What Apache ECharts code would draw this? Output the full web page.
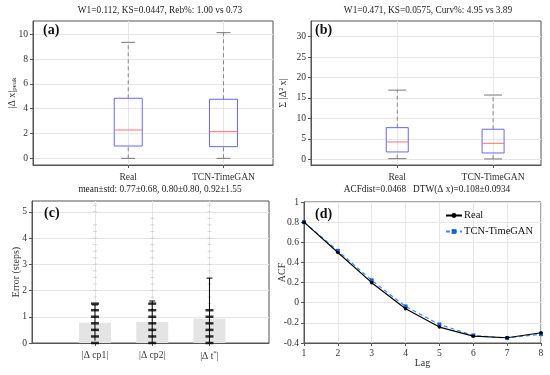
<!DOCTYPE html>
<html><head><meta charset="utf-8">
<script src="https://cdn.jsdelivr.net/npm/echarts@6/dist/echarts.min.js"></script>
<style>html,body{margin:0;padding:0;background:#fff}#c{width:550px;height:375px}</style>
</head><body><div id="c"></div>
<script>
// ---------- data ----------
const boxCategories = ['Real', 'TCN-TimeGAN'];
// [low whisker, Q1, median, Q3, high whisker]
const peakReal = [0, 0.99, 2.28, 4.84, 9.35];
const peakGen  = [0, 0.94, 2.15, 4.76, 10.13];
const curvReal = [0.15, 1.79, 4.23, 7.73, 16.9];
const curvGen  = [0.08, 1.54, 3.90, 7.34, 15.7];
const peakTicks = [0, 2, 4, 6, 8, 10];
const curvTicks = [0, 5, 10, 15, 20, 25, 30];

const errCategories = ['cp1', 'cp2', 't'];
const errMean = [0.77, 0.80, 0.92];
const errStd  = [0.68, 0.80, 1.55];
const errTicks = [0, 1, 2, 3, 4, 5];
const denseLevels = [
  [0, 0.25, 0.5, 0.75, 1, 1.25, 1.5],
  [0, 0.25, 0.5, 0.75, 1, 1.25, 1.5],
  [0, 0.25, 0.5, 0.75, 1, 1.25]
];
const sparseLevels = [
  [1.75, 2, 2.25, 2.5, 2.75, 3, 3.25, 3.5, 3.75, 4, 4.25, 4.5, 5, 5.25],
  [1.75, 2, 2.25, 2.5, 2.75, 3, 3.25, 3.5, 3.75, 4, 4.25, 4.5, 4.75],
  [1.5, 1.75, 2, 2.25, 2.5, 2.75, 3, 3.25, 3.5, 3.75, 4, 4.25, 4.5, 4.75, 5, 5.25]
];

const lags = [1, 2, 3, 4, 5, 6, 7, 8];
const acfReal = [0.80, 0.498, 0.199, -0.06, -0.242, -0.332, -0.348, -0.298];
const acfGen  = [0.80, 0.515, 0.222, -0.037, -0.216, -0.325, -0.350, -0.312];

const titles = [
  'W1=0.112, KS=0.0447, Reb%: 1.00 vs 0.73',
  'W1=0.471, KS=0.0575, Curv%: 4.95 vs 3.89',
  'mean±std: 0.77±0.68, 0.80±0.80, 0.92±1.55',
  'ACFdist=0.0468   DTW(Δ x)=0.108±0.0934'
];

// ---------- style ----------
const FONT = 'Liberation Serif';
const FRAME = '#555';
const GRIDC = '#e6e6e6';
const LABC = '#333';
const TICKFS = 9.6;

function boxItem(halfW, capHalf) {
  return function (params, api) {
    const x = api.value(0);
    const lo = api.coord([x, api.value(1)]);
    const q1 = api.coord([x, api.value(2)]);
    const md = api.coord([x, api.value(3)]);
    const q3 = api.coord([x, api.value(4)]);
    const hi = api.coord([x, api.value(5)]);
    const cx = lo[0];
    const dash = {stroke: '#888', lineWidth: 1, lineDash: [4, 3]};
    const solid = {stroke: '#777', lineWidth: 1};
    return {type: 'group', children: [
      {type: 'line', shape: {x1: cx, y1: q3[1], x2: cx, y2: hi[1]}, style: dash},
      {type: 'line', shape: {x1: cx, y1: lo[1], x2: cx, y2: q1[1]}, style: dash},
      {type: 'line', shape: {x1: cx - capHalf, y1: hi[1], x2: cx + capHalf, y2: hi[1]}, style: solid},
      {type: 'line', shape: {x1: cx - capHalf, y1: lo[1], x2: cx + capHalf, y2: lo[1]}, style: solid},
      {type: 'rect', shape: {x: cx - halfW, y: q3[1], width: 2 * halfW, height: q1[1] - q3[1]},
        style: {fill: 'none', stroke: '#6666ff', lineWidth: 1}},
      {type: 'line', shape: {x1: cx - halfW, y1: md[1], x2: cx + halfW, y2: md[1]},
        style: {stroke: '#ff7070', lineWidth: 1}}
    ]};
  };
}

function valAxisBase(extra) {
  return Object.assign({
    type: 'value',
    axisLine: {show: true, onZero: false, lineStyle: {color: FRAME}},
    axisTick: {show: true, length: 3, lineStyle: {color: FRAME}},
    axisLabel: {color: LABC, fontFamily: FONT, fontSize: TICKFS, margin: 5},
    splitLine: {show: true, lineStyle: {color: GRIDC}},
    nameTextStyle: {color: LABC, fontFamily: FONT, fontSize: 10},
    nameLocation: 'middle', nameRotate: 90, nameMoveOverlap: false
  }, extra);
}

const gridBase = {show: true, borderColor: FRAME, borderWidth: 1, containLabel: false};

const errBarData = errMean.map((m, i) => [i + 1, Math.max(0, m - errStd[i]), m + errStd[i]]);
const denseData = [], sparseData = [];
denseLevels.forEach((arr, i) => arr.forEach(v => denseData.push([i + 1, v])));
sparseLevels.forEach((arr, i) => arr.forEach(v => sparseData.push([i + 1, v])));

const panelLabel = (x, y, t) => ({type: 'text', x: x, y: y, z: 100,
  style: {text: t, fontFamily: FONT, fontSize: 14, fontWeight: 'bold', fill: '#111', verticalAlign: 'middle'}});
const titleText = (x, y, t) => ({type: 'text', x: x, y: y,
  style: {text: t, fontFamily: FONT, fontSize: 9.3, fill: '#222', align: 'center', verticalAlign: 'middle'}});

const option = {
  animation: false,
  backgroundColor: '#fff',
  textStyle: {fontFamily: FONT},
  grid: [
    Object.assign({left: 33, top: 21, width: 240, height: 144}, gridBase),
    Object.assign({left: 311, top: 21, width: 230, height: 144}, gridBase),
    Object.assign({left: 32, top: 201, width: 237, height: 142}, gridBase),
    Object.assign({left: 304, top: 202, width: 237, height: 141}, gridBase)
  ],
  xAxis: [
    valAxisBase({gridIndex: 0, min: 0, max: 2.52, nameRotate: 0,
      axisTick: {show: true, length: 3, customValues: [1, 2], lineStyle: {color: FRAME}},
      axisLabel: {color: LABC, fontFamily: FONT, fontSize: TICKFS, margin: 7, customValues: [1, 2],
        formatter: v => boxCategories[Math.round(v) - 1]}}),
    valAxisBase({gridIndex: 1, min: 0.1, max: 2.5, nameRotate: 0,
      axisTick: {show: true, length: 3, customValues: [1, 2], lineStyle: {color: FRAME}},
      axisLabel: {color: LABC, fontFamily: FONT, fontSize: TICKFS, margin: 7, customValues: [1, 2],
        formatter: v => boxCategories[Math.round(v) - 1]}}),
    valAxisBase({gridIndex: 2, min: -0.1, max: 4.04, nameRotate: 0,
      axisTick: {show: true, length: 3, customValues: [1, 2, 3], lineStyle: {color: FRAME}},
      axisLabel: {color: LABC, fontFamily: FONT, fontSize: TICKFS, margin: 7, customValues: [1, 2, 3],
        formatter: v => { const c = errCategories[Math.round(v) - 1]; return c === 't' ? '{n||Δ t}{s|*}{n||}' : '{n||Δ ' + c + '|}'; },
        rich: {n: {fontFamily: FONT, fontSize: TICKFS, color: LABC}, s: {fontFamily: FONT, fontSize: 7, color: LABC, padding: [0, 0, 6, 0]}}}}),
    valAxisBase({gridIndex: 3, min: 1, max: 8, interval: 1, nameRotate: 0,
      name: 'Lag', nameGap: 15})
  ],
  yAxis: [
    valAxisBase({gridIndex: 0, min: -0.54, max: 11.07,
      axisTick: {show: true, length: 3, customValues: peakTicks, lineStyle: {color: FRAME}},
      axisLabel: {color: LABC, fontFamily: FONT, fontSize: TICKFS, margin: 5, customValues: peakTicks},
      name: '{n||Δ x|}{s|peak}', nameGap: 15,
      nameTextStyle: {color: LABC, fontFamily: FONT, fontSize: 10,
        rich: {n: {fontFamily: FONT, fontSize: 10, color: LABC}, s: {fontFamily: FONT, fontSize: 7, color: LABC, padding: [5, 0, 0, 0]}}}}),
    valAxisBase({gridIndex: 1, min: -1.4, max: 33.8,
      axisTick: {show: true, length: 3, customValues: curvTicks, lineStyle: {color: FRAME}},
      axisLabel: {color: LABC, fontFamily: FONT, fontSize: TICKFS, margin: 5, customValues: curvTicks},
      name: 'Σ |Δ² x|', nameGap: 23}),
    valAxisBase({gridIndex: 2, min: 0, max: 5.41,
      axisTick: {show: true, length: 3, customValues: errTicks, lineStyle: {color: FRAME}},
      axisLabel: {color: LABC, fontFamily: FONT, fontSize: TICKFS, margin: 5, customValues: errTicks},
      name: 'Error (steps)', nameGap: 11}),
    valAxisBase({gridIndex: 3, min: -0.4, max: 1, interval: 0.2,
      name: 'ACF', nameGap: 17})
  ],
  legend: {
    data: ['Real', 'TCN-TimeGAN'], orient: 'vertical', left: 440, top: 205,
    itemWidth: 16, itemHeight: 6, itemGap: 5,
    textStyle: {fontFamily: FONT, fontSize: 10.5, color: '#111', padding: [0, 0, 0, -3]}
  },
  graphic: [
    titleText(160, 11, titles[0]),
    titleText(428, 11, titles[1]),
    titleText(160, 190, titles[2]),
    titleText(427, 190, titles[3]),
    panelLabel(43, 30, '(a)'),
    panelLabel(315, 30, '(b)'),
    panelLabel(44, 213, '(c)'),
    panelLabel(315, 214, '(d)')
  ],
  series: [
    {type: 'custom', xAxisIndex: 0, yAxisIndex: 0, renderItem: boxItem(14, 7),
      encode: {x: 0, y: [1, 2, 3, 4, 5]},
      data: [[1].concat(peakReal), [2].concat(peakGen)]},
    {type: 'custom', xAxisIndex: 1, yAxisIndex: 1, renderItem: boxItem(11, 9),
      encode: {x: 0, y: [1, 2, 3, 4, 5]},
      data: [[1].concat(curvReal), [2].concat(curvGen)]},
    {type: 'bar', xAxisIndex: 2, yAxisIndex: 2, barWidth: 32, z: 1,
      itemStyle: {color: '#e4e4e4'},
      data: errMean.map((m, i) => [i + 1, m])},
    {type: 'scatter', xAxisIndex: 2, yAxisIndex: 2, symbol: 'rect', symbolSize: [4, 1], z: 2,
      itemStyle: {color: '#aaa', opacity: 0.45}, data: sparseData},
    {type: 'custom', xAxisIndex: 2, yAxisIndex: 2, z: 3,
      encode: {x: 0, y: [1, 2]},
      renderItem: function (params, api) {
        const x = api.value(0);
        const lo = api.coord([x, api.value(1)]);
        const hi = api.coord([x, api.value(2)]);
        const st = {stroke: '#000', lineWidth: 1};
        return {type: 'group', children: [
          {type: 'line', shape: {x1: lo[0], y1: lo[1], x2: hi[0], y2: hi[1]}, style: st},
          {type: 'line', shape: {x1: hi[0] - 3, y1: hi[1], x2: hi[0] + 3, y2: hi[1]}, style: st}
        ]};
      },
      data: errBarData},
    {type: 'scatter', xAxisIndex: 2, yAxisIndex: 2, symbol: 'rect', symbolSize: [8, 2.5], z: 4,
      itemStyle: {color: '#000'}, data: denseData},
    {type: 'line', name: 'Real', xAxisIndex: 3, yAxisIndex: 3, z: 5,
      data: lags.map((l, i) => [l, acfReal[i]]),
      symbol: 'circle', symbolSize: 3.5,
      lineStyle: {color: '#000', width: 1.2}, itemStyle: {color: '#000'}},
    {type: 'line', name: 'TCN-TimeGAN', xAxisIndex: 3, yAxisIndex: 3, z: 4,
      data: lags.map((l, i) => [l, acfGen[i]]),
      symbol: 'rect', symbolSize: 4,
      lineStyle: {color: '#3d8cf0', width: 1.2, type: [4, 3]}, itemStyle: {color: '#1f5fd6'}}
  ]
};

const chart = echarts.init(document.getElementById('c'), null, {renderer: 'canvas'});
chart.setOption(option);
</script>
</body></html>
